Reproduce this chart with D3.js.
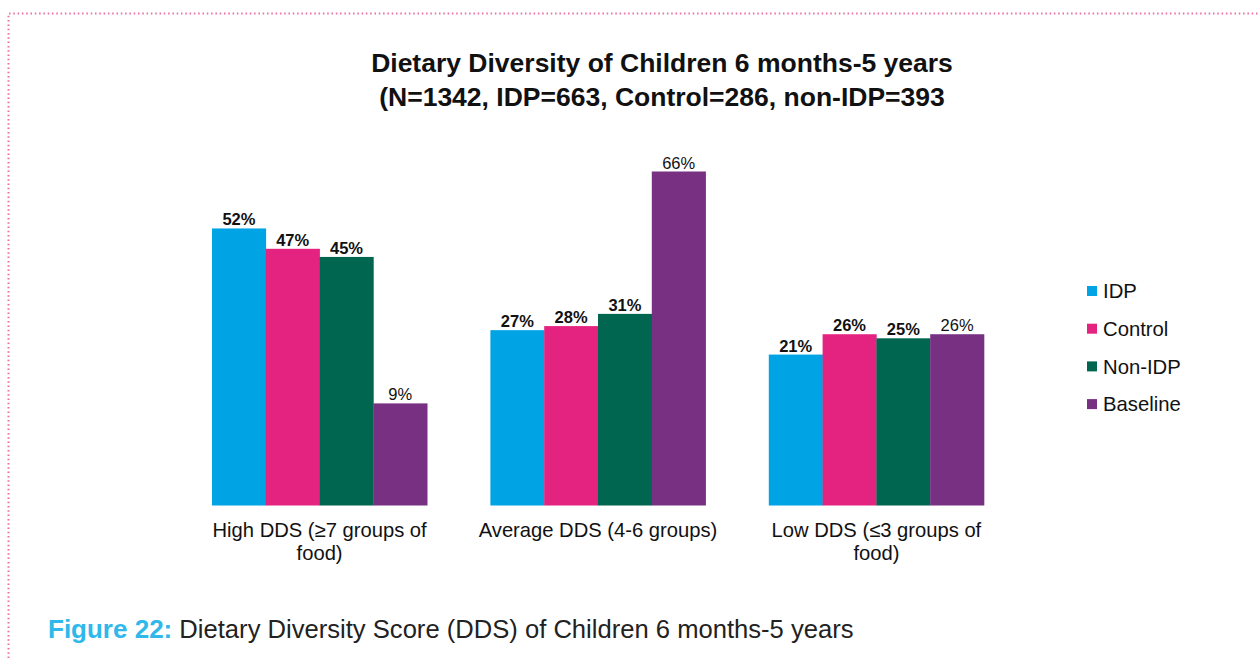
<!DOCTYPE html>
<html>
<head>
<meta charset="utf-8">
<script src="https://cdn.jsdelivr.net/npm/d3@7"></script>
<style>
  body { margin: 0; background: #fff; }
  svg { display: block; font-family: Arial, "Liberation Sans", Helvetica, sans-serif; }
</style>
</head>
<body>
<svg id="chart" width="1260" height="658"></svg>
<script>
// data
const categories = ["High DDS (≥7 groups of food)", "Average DDS (4-6 groups)", "Low DDS (≤3 groups of food)"];
const categoryLines = [["High DDS (≥7 groups of", "food)"], ["Average DDS (4-6 groups)"], ["Low DDS (≤3 groups of", "food)"]];
const seriesNames = ["IDP", "Control", "Non-IDP", "Baseline"];
const idp = [52, 27, 21];
const control = [47, 28, 26];
const nonIdp = [45, 31, 25];
const baseline = [9, 66, 26];
const seriesValues = [idp, control, nonIdp, baseline];
const colors = ["#00a3e4", "#e3237f", "#00664f", "#773082"];

const svg = d3.select("#chart");

// dotted frame
svg.append("path")
    .attr("d", "M8.5,658 V13.5 H1260")
    .attr("fill", "none")
    .attr("stroke", "#ec6fa6")
    .attr("stroke-width", 2)
    .attr("stroke-dasharray", "1.5,2.8");

// title
const title = svg.append("text")
    .attr("x", 662).attr("text-anchor", "middle")
    .attr("font-weight", "bold").attr("font-size", 26.5).attr("fill", "#111");
title.append("tspan").attr("x", 662).attr("y", 72).text("Dietary Diversity of Children 6 months-5 years");
title.append("tspan").attr("x", 662).attr("y", 106).text("(N=1342, IDP=663, Control=286, non-IDP=393");

const x0 = d3.scaleBand().domain(categories).range([212, 984]).paddingInner(0.227).paddingOuter(0);
const x1 = d3.scaleBand().domain(seriesNames).range([0, x0.bandwidth()]);
// value axis does not start at zero in the original
const y = d3.scaleLinear().domain([-16.1, 66]).range([505.5, 171.5]);

const rows = categories.map((c, i) => ({ cat: c, vals: seriesNames.map((s, j) => ({ s, v: seriesValues[j][i] })) }));

const groups = svg.append("g").selectAll("g").data(rows).enter().append("g")
    .attr("transform", d => `translate(${x0(d.cat)},0)`);

groups.selectAll("rect").data(d => d.vals).enter().append("rect")
    .attr("x", d => x1(d.s))
    .attr("width", x1.bandwidth() + 0.3)
    .attr("y", d => y(d.v))
    .attr("height", d => y.range()[0] - y(d.v))
    .attr("fill", (d, i) => colors[i]);

groups.selectAll("text").data(d => d.vals).enter().append("text")
    .attr("x", d => x1(d.s) + x1.bandwidth() / 2)
    .attr("y", d => y(d.v) - 3)
    .attr("text-anchor", "middle")
    .attr("font-size", 16.5)
    .attr("font-weight", d => d.s === "Baseline" ? "normal" : "bold")
    .attr("fill", "#111")
    .text(d => d.v + "%");

// category labels
const catLabels = svg.append("g").selectAll("text").data(categories).enter().append("text")
    .attr("text-anchor", "middle")
    .attr("font-size", 20.2)
    .attr("fill", "#111");
catLabels.each(function (d, i) {
    const cx = x0(d) + x0.bandwidth() / 2;
    d3.select(this).selectAll("tspan").data(categoryLines[i]).enter().append("tspan")
        .attr("x", cx)
        .attr("y", (t, k) => 537 + k * 22.5)
        .text(t => t);
});

// legend
const legend = svg.append("g").selectAll("g").data(seriesNames).enter().append("g")
    .attr("transform", (d, i) => `translate(1087,${291 + i * 37.7})`);
legend.append("rect").attr("x", 0).attr("y", -5).attr("width", 10).attr("height", 10)
    .attr("fill", (d, i) => colors[i]);
legend.append("text").attr("x", 16).attr("y", 7.3)
    .attr("font-size", 20.3).attr("fill", "#111").text(d => d);

// caption
const cap = svg.append("text").attr("x", 48).attr("y", 638);
cap.append("tspan").attr("font-weight", "bold").attr("font-size", 26).attr("fill", "#2fb8ea").text("Figure 22:");
cap.append("tspan").attr("font-size", 25.6).attr("fill", "#222").text(" Dietary Diversity Score (DDS) of Children 6 months-5 years");
</script>
</body>
</html>
